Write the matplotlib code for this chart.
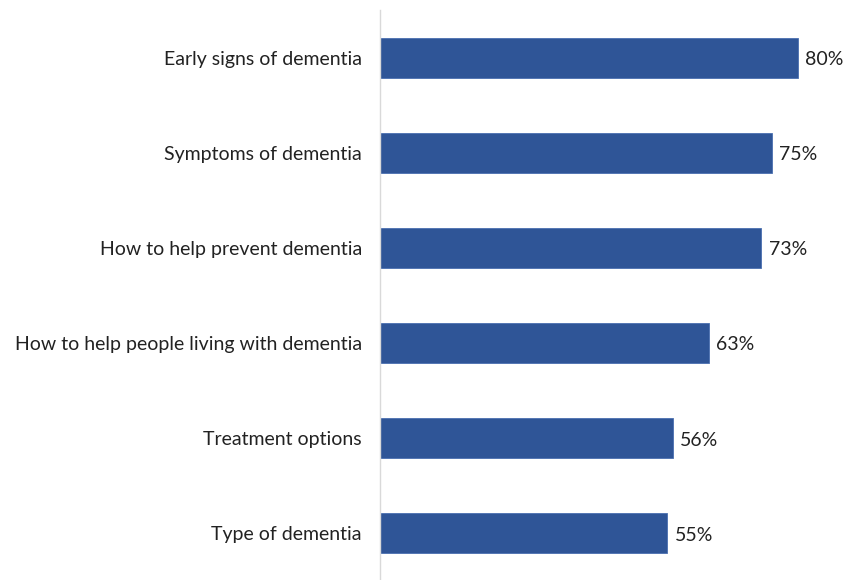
import matplotlib.pyplot as plt

categories = [
    "Early signs of dementia",
    "Symptoms of dementia",
    "How to help prevent dementia",
    "How to help people living with dementia",
    "Treatment options",
    "Type of dementia",
]
values = [80, 75, 73, 63, 56, 55]

plt.rcParams['font.family'] = ['Lato', 'DejaVu Sans']

fig = plt.figure(figsize=(8.45, 5.8), dpi=100)
ax = fig.add_axes([380 / 845, 0, 465 / 845, 1 - 10 / 580])

pos = list(range(len(categories)))
ax.barh(pos, values, height=0.42, color="#2F5597", edgecolor="#4a6fb0", linewidth=0.6)

for p, v in zip(pos, values):
    ax.text(v + 1.4, p + 0.02, f"{v}%", va="center", ha="left", fontsize=14, color="#222222")

ax.set_yticks(pos)
ax.set_yticklabels(categories, fontsize=14, color="#222222")
ax.tick_params(axis="y", length=0, pad=13)
ax.set_xticks([])
ax.set_xlim(0, 89)
ax.set_ylim(5.49, -0.5)

for side in ["top", "right", "bottom"]:
    ax.spines[side].set_visible(False)
ax.spines["left"].set_color("#d9d9d9")
ax.spines["left"].set_linewidth(1.0)

fig.savefig("out.png", dpi=100)
